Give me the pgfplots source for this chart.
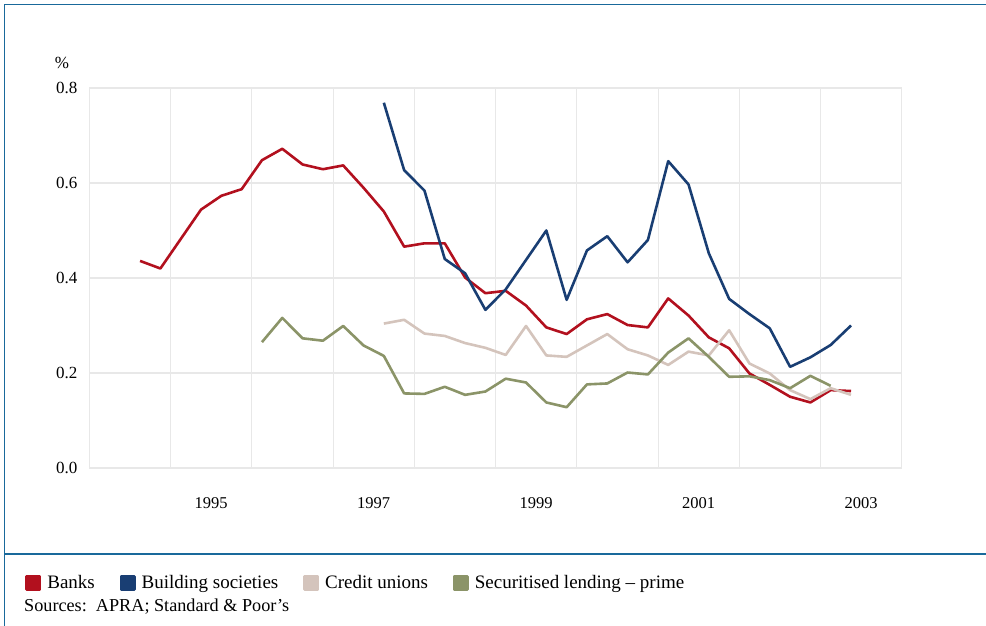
\documentclass[border=0pt]{standalone}
\usepackage{fontspec}
\setmainfont{Liberation Serif}
\usepackage{pgfplots}
\pgfplotsset{compat=1.18}
\definecolor{banks}{RGB}{178,16,30}
\definecolor{build}{RGB}{25,62,115}
\definecolor{credit}{RGB}{212,196,188}
\definecolor{secur}{RGB}{139,148,104}
\definecolor{frame}{RGB}{25,105,155}
\definecolor{gridgray}{RGB}{232,232,232}
\begin{document}
\fontsize{17}{20}\selectfont
\begin{tikzpicture}[x=1pt,y=1pt]
\path[use as bounding box] (0,0) rectangle (986,626);
\draw[frame, line width=1.8pt] (986,621.5) -- (4.5,621.5) -- (4.5,0);
\draw[frame, line width=1.8pt] (4.5,72) -- (986,72);
\node[font=\fontsize{17}{20}\selectfont, inner sep=0] at (62,563) {\%};
\node[anchor=base west, inner sep=0, font=\fontsize{18.2}{21}\selectfont] at (24,14) {Sources:\ \ APRA; Standard \& Poor’s};
\begin{axis}[
  at={(89.3pt,158pt)}, anchor=south west,
  scale only axis, width=812.5pt, height=380pt,
  xmin=1994, xmax=2004, ymin=0, ymax=0.8,
  /pgf/number format/assume math mode=true,
  axis line style={draw=gridgray, line width=1.1pt},
  grid style={draw=gridgray, line width=1.1pt},
  major tick length=0pt,
  xtick={1995,1996,1997,1998,1999,2000,2001,2002,2003},
  xticklabels={},
  xmajorgrids,
  extra x ticks={1995.5,1997.5,1999.5,2001.5,2003.5},
  extra x tick labels={1995,1997,1999,2001,2003},
  extra x tick style={grid=none, major tick length=0pt},
  xticklabel style={yshift=-24pt, font=\fontsize{16.5}{19}\selectfont},
  ytick={0,0.2,0.4,0.6,0.8},
  ymajorgrids,
  yticklabel style={xshift=-6pt, font=\fontsize{17}{20}\selectfont, /pgf/number format/.cd, fixed, fixed zerofill, precision=1},
  legend columns=4,
  legend style={draw=none, fill=none, at={(-0.0828,-0.3026)}, anchor=west,
    font=\fontsize{19}{22}\selectfont,
    /tikz/every odd column/.append style={column sep=4pt},
    /tikz/every even column/.append style={column sep=22.7pt}},
  legend image code/.code={\fill[#1] (0pt,-6.7pt) rectangle (13.5pt,6.7pt);},
  every axis plot/.append style={line width=2.6pt, line join=round, mark=none},
]
\addplot[color=banks] coordinates {(1994.625,0.436) (1994.875,0.420) (1995.125,0.482) (1995.375,0.544) (1995.625,0.573) (1995.875,0.587) (1996.125,0.648) (1996.375,0.672) (1996.625,0.639) (1996.875,0.629) (1997.125,0.637) (1997.375,0.590) (1997.625,0.540) (1997.875,0.466) (1998.125,0.473) (1998.375,0.473) (1998.625,0.401) (1998.875,0.368) (1999.125,0.373) (1999.375,0.342) (1999.625,0.296) (1999.875,0.282) (2000.125,0.313) (2000.375,0.324) (2000.625,0.301) (2000.875,0.296) (2001.125,0.357) (2001.375,0.321) (2001.625,0.275) (2001.875,0.252) (2002.125,0.199) (2002.375,0.175) (2002.625,0.150) (2002.875,0.138) (2003.125,0.164) (2003.375,0.162)};
\addlegendentry{Banks}
\addplot[color=build] coordinates {(1997.625,0.769) (1997.875,0.627) (1998.125,0.584) (1998.375,0.440) (1998.625,0.410) (1998.875,0.333) (1999.125,0.376) (1999.375,0.438) (1999.625,0.500) (1999.875,0.354) (2000.125,0.458) (2000.375,0.488) (2000.625,0.433) (2000.875,0.480) (2001.125,0.646) (2001.375,0.597) (2001.625,0.452) (2001.875,0.356) (2002.125,0.324) (2002.375,0.294) (2002.625,0.213) (2002.875,0.233) (2003.125,0.259) (2003.375,0.300)};
\addlegendentry{Building societies}
\addplot[color=credit] coordinates {(1997.625,0.304) (1997.875,0.312) (1998.125,0.283) (1998.375,0.278) (1998.625,0.263) (1998.875,0.253) (1999.125,0.238) (1999.375,0.299) (1999.625,0.237) (1999.875,0.234) (2000.125,0.258) (2000.375,0.282) (2000.625,0.250) (2000.875,0.237) (2001.125,0.217) (2001.375,0.245) (2001.625,0.237) (2001.875,0.290) (2002.125,0.220) (2002.375,0.199) (2002.625,0.164) (2002.875,0.145) (2003.125,0.168) (2003.375,0.154)};
\addlegendentry{Credit unions}
\addplot[color=secur] coordinates {(1996.125,0.265) (1996.375,0.316) (1996.625,0.273) (1996.875,0.268) (1997.125,0.299) (1997.375,0.258) (1997.625,0.236) (1997.875,0.157) (1998.125,0.156) (1998.375,0.171) (1998.625,0.154) (1998.875,0.161) (1999.125,0.188) (1999.375,0.180) (1999.625,0.138) (1999.875,0.128) (2000.125,0.176) (2000.375,0.178) (2000.625,0.201) (2000.875,0.197) (2001.125,0.243) (2001.375,0.273) (2001.625,0.234) (2001.875,0.192) (2002.125,0.193) (2002.375,0.185) (2002.625,0.168) (2002.875,0.194) (2003.125,0.173)};
\addlegendentry{Securitised lending -- prime}
\end{axis}
\end{tikzpicture}
\end{document}
